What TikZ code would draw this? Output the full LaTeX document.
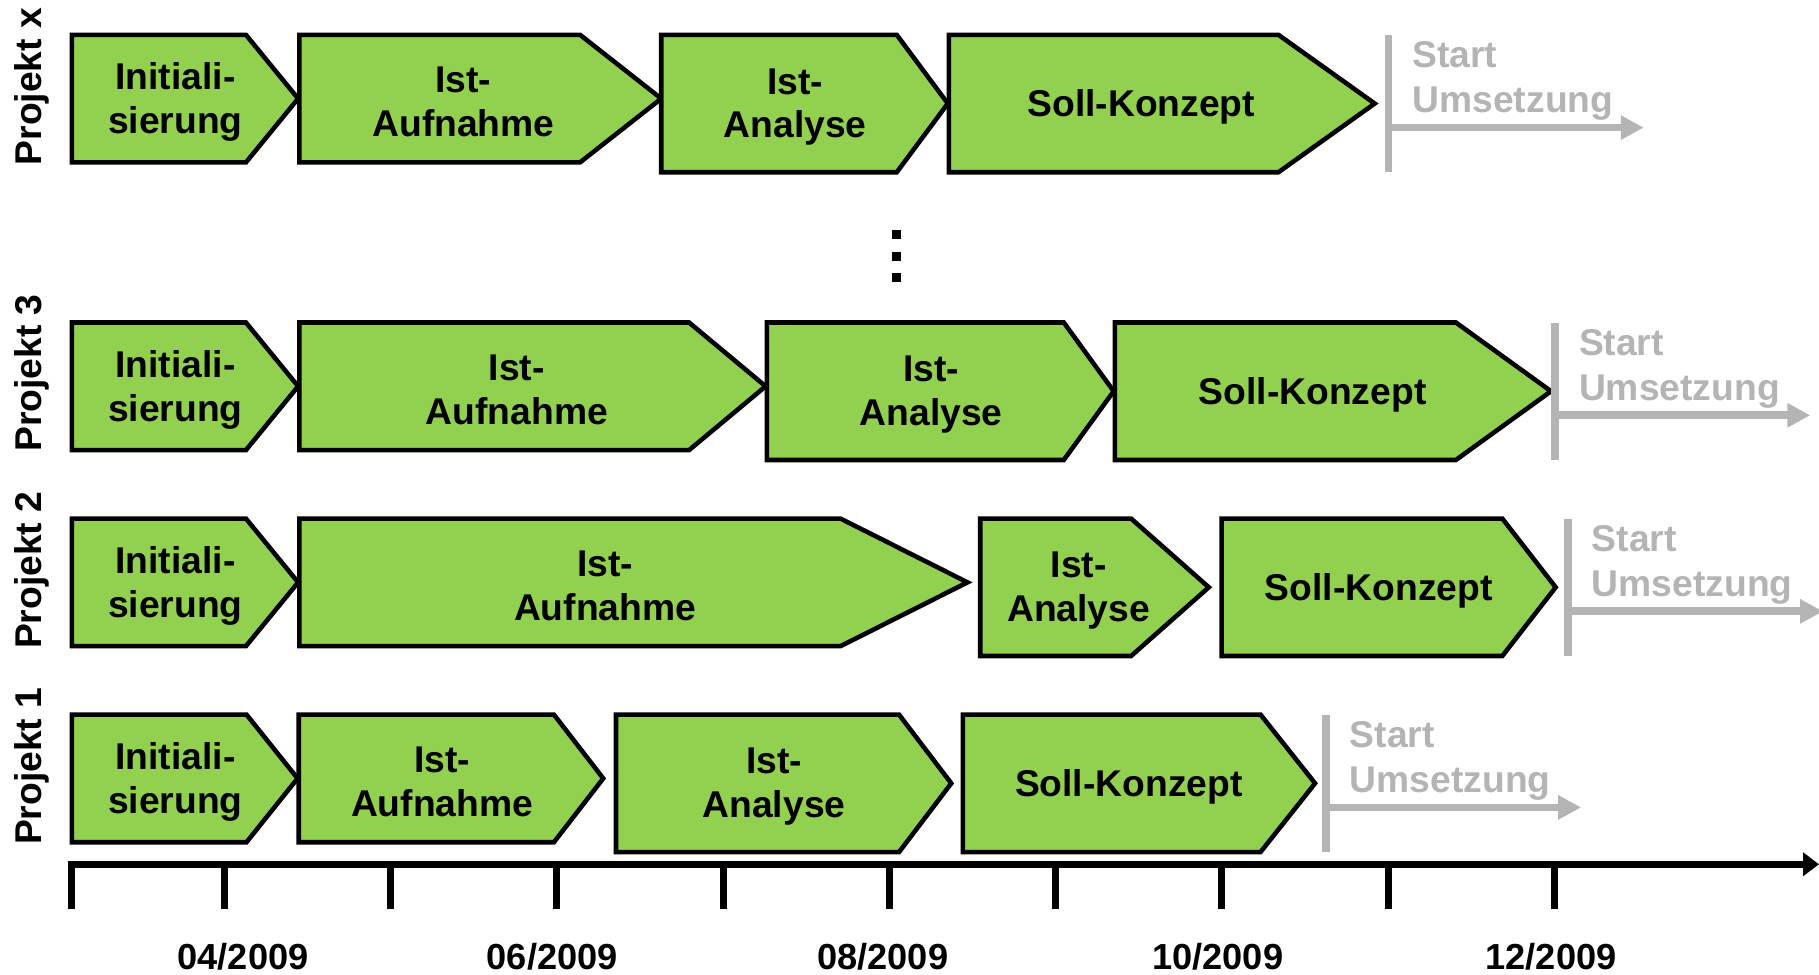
\documentclass[tikz,border=0pt]{standalone}
\usepackage{fontspec}
\setmainfont{Liberation Sans}
\usepackage{tikz}
\usetikzlibrary{arrows.meta}
\definecolor{phasegreen}{RGB}{146,208,80}
\definecolor{startgray}{RGB}{180,180,180}
\tikzstyle{phasebox} = [draw=black, fill=phasegreen, line width=1.3pt, line join=miter]
\tikzstyle{phasetext} = [align=center, inner sep=0pt, font=\fontsize{10.6}{12.4}\selectfont\bfseries]
\tikzstyle{projlabel} = [rotate=90, anchor=base west, inner sep=0pt, font=\fontsize{10.6}{12.6}\selectfont\bfseries]
\tikzstyle{startline} = [draw=startgray, line width=2.2pt]
\tikzstyle{startarrow} = [draw=startgray, line width=2.2pt, >={Triangle[length=2.3mm,width=2.3mm]}]
\tikzstyle{starttext} = [text=startgray, align=left, anchor=north west, inner sep=0pt, font=\fontsize{10.6}{12.8}\selectfont\bfseries]
\tikzstyle{timeaxis} = [line width=2pt, line join=miter, >={Triangle[length=1.6mm,width=2.3mm]}]
\tikzstyle{monthtick} = [line width=2pt]
\tikzstyle{datelabel} = [anchor=base, inner sep=0pt, font=\fontsize{10.3}{12.3}\selectfont\bfseries]
\tikzstyle{vdot} = [fill=black, minimum size=0.9mm, inner sep=0pt]
% phase arrow: name, left, corner, tip, top, height, text
\newcommand{\drawphase}[7]{%
	\draw[phasebox] (#2,#5) -- (#3,#5) -- (#4,{#5+#6/2}) -- (#3,{#5+#6}) -- (#2,{#5+#6}) -- cycle;
	\node[phasetext] (#1) at ({(#2+(#3+#4)/2)/2+3},{#5+#6/2+3}) {#7};}
% start marker: name, x, top
\newcommand{\drawstart}[3]{%
	\coordinate (#1) at (#2,#3);
	\coordinate (#1arrow) at (#2,#3+80);
	\draw[startline] (#1) -- ++(0,118.5);
	\draw[startarrow, ->] (#1arrow) -- ++(220,0);
	\node[starttext] (#1text) at (#2+20,#3+5) {Start\\Umsetzung};}

\begin{document}
\begin{tikzpicture}[x=0.11601mm, y=-0.11601mm]
	\tikzstyle{every node}=[font=\bfseries]
	\useasboundingbox (0,0) rectangle (1568,840.4);
	
	% Projekt x
	\node[projlabel] (labx) at (36,143) {Projekt x};
	\drawphase{initx}{62}{212}{257}{30}{110}{Initiali-\\sierung}
	\drawphase{aufnx}{258}{500}{570}{30}{110}{Ist-\\Aufnahme}
	\drawphase{analx}{570}{773}{817}{30}{118.5}{Ist-\\Analyse}
	\drawphase{sollx}{818}{1102}{1185}{30}{118.5}{Soll-Konzept}
	\drawstart{startx}{1197}{30}
	
	\node[vdot] (dot1) at (772.4,202.2) {};
	\node[vdot] (dot2) at (772.4,221.1) {};
	\node[vdot] (dot3) at (772.4,239.2) {};
	
	% Projekt 3
	\node[projlabel] (lab3) at (36,390) {Projekt 3};
	\drawphase{init3}{62}{212}{257}{278}{110}{Initiali-\\sierung}
	\drawphase{aufn3}{258}{594}{660}{278}{110}{Ist-\\Aufnahme}
	\drawphase{anal3}{661}{917}{960}{278}{118.5}{Ist-\\Analyse}
	\drawphase{soll3}{961}{1255}{1337}{278}{118.5}{Soll-Konzept}
	\drawstart{start3}{1340.5}{278}
	
	% Projekt 2
	\node[projlabel] (lab2) at (36,560) {Projekt 2};
	\drawphase{init2}{62}{212}{257}{447}{110}{Initiali-\\sierung}
	\drawphase{aufn2}{258}{724.5}{834}{447}{110}{Ist-\\Aufnahme}
	\drawphase{anal2}{845}{975}{1042}{447}{118.5}{Ist-\\Analyse}
	\drawphase{soll2}{1053}{1295}{1341}{447}{118.5}{Soll-Konzept}
	\drawstart{start2}{1351.5}{447}
	
	% Projekt 1
	\node[projlabel] (lab1) at (36,729) {Projekt 1};
	\drawphase{init1}{62}{212.5}{256.5}{616}{110}{Initiali-\\sierung}
	\drawphase{aufn1}{257.5}{477.5}{520}{616}{110}{Ist-\\Aufnahme}
	\drawphase{anal1}{531}{775}{820}{616}{118.5}{Ist-\\Analyse}
	\drawphase{soll1}{830}{1086.6}{1133.6}{616}{118.5}{Soll-Konzept}
	\drawstart{start1}{1143}{616}
	
	% Zeitachse
	\coordinate (tick0) at (62,783.6);
	\coordinate (axisend) at (1568,745);
	\draw[timeaxis, ->] (tick0) |- (axisend);
	\draw[monthtick] (193.5,745) -- ++(0,38.6);
	\draw[monthtick] (336.8,745) -- ++(0,38.6);
	\draw[monthtick] (480.1,745) -- ++(0,38.6);
	\draw[monthtick] (623.4,745) -- ++(0,38.6);
	\draw[monthtick] (766.7,745) -- ++(0,38.6);
	\draw[monthtick] (910,745) -- ++(0,38.6);
	\draw[monthtick] (1053.3,745) -- ++(0,38.6);
	\draw[monthtick] (1196.6,745) -- ++(0,38.6);
	\draw[monthtick] (1339.9,745) -- ++(0,38.6);
	
	\node[datelabel] (d04) at (209.5,836) {04/2009};
	\node[datelabel] (d06) at (476,836) {06/2009};
	\node[datelabel] (d08) at (761,836) {08/2009};
	\node[datelabel] (d10) at (1049.7,836) {10/2009};
	\node[datelabel] (d12) at (1337,836) {12/2009};
	
\end{tikzpicture}
\end{document}
